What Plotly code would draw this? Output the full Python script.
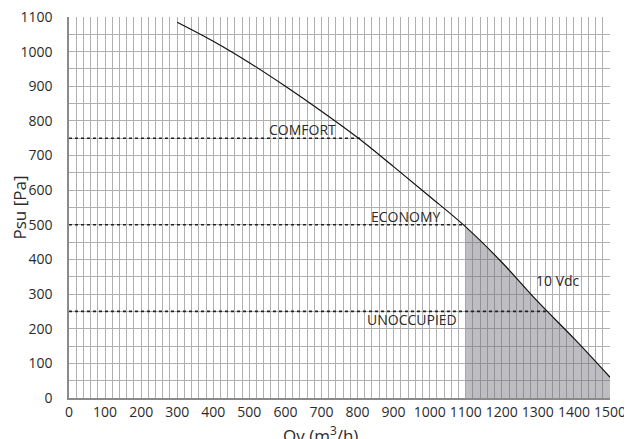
import plotly.graph_objects as go

# Data
curve_x = [300, 400, 500, 600, 700, 800, 900, 1000, 1100, 1200, 1300, 1400, 1500]
curve_y = [1085, 1030, 968, 900, 828, 752, 668, 582, 494, 392, 278, 172, 60]

shade_x = [1100, 1200, 1300, 1400, 1500]
shade_y = [494, 392, 278, 172, 60]

level_names = ["COMFORT", "ECONOMY", "UNOCCUPIED"]
level_values = [750, 500, 250]
level_ends = [812, 1100, 1325]

label_x = [746, 1038, 1080]
label_y = [776, 525, 226]

curve_label = "10 Vdc"
curve_label_pos = (1357, 340)

x_ticks = list(range(0, 1501, 100))
y_ticks = list(range(0, 1101, 100))

x_title = "Qv (m<sup>3</sup>/h)"
y_title = "Psu [Pa]"

FONT = "Open Sans, Noto Sans, sans-serif"
TXT = "#2b2b2b"

fig = go.Figure()

fig.add_trace(go.Scatter(
    x=shade_x, y=shade_y, mode="lines", fill="tozeroy",
    fillcolor="rgba(110,110,120,0.45)", line=dict(width=0),
    hoverinfo="skip", showlegend=False))

for v, e in zip(level_values, level_ends):
    fig.add_trace(go.Scatter(
        x=[0, e], y=[v, v], mode="lines",
        line=dict(color="#222222", width=1.6, dash="dot"),
        showlegend=False, hoverinfo="skip"))

fig.add_trace(go.Scatter(
    x=curve_x, y=curve_y, mode="lines", line=dict(color="#111111", width=1.2, shape="spline"),
    showlegend=False))

for name, lx, ly in zip(level_names, label_x, label_y):
    fig.add_annotation(x=lx, y=ly, text=name, showarrow=False, xanchor="right",
                       yanchor="middle", font=dict(family=FONT, size=14, color=TXT))

fig.add_annotation(x=curve_label_pos[0], y=curve_label_pos[1], text=curve_label,
                   showarrow=False, xanchor="center", yanchor="middle",
                   font=dict(family=FONT, size=14, color=TXT))

# x-axis title (sits slightly left of centre in the reference)
fig.add_annotation(x=696, xref="x", y=-0.095, yref="paper", text=x_title,
                   showarrow=False, xanchor="center", yanchor="middle",
                   font=dict(family=FONT, size=17, color=TXT))

grid_col = "#b0b0b0"
fig.update_layout(
    width=624, height=431,
    margin=dict(l=61, r=22, t=9, b=41),
    paper_bgcolor="white", plot_bgcolor="white",
    font=dict(family=FONT, size=13, color=TXT),
    xaxis=dict(range=[0, 1500], tickvals=x_ticks, ticks="", showgrid=True,
               gridcolor=grid_col, gridwidth=1, automargin=False,
               minor=dict(dtick=20, showgrid=True, gridcolor=grid_col, gridwidth=1),
               showline=True, linecolor="#8a8a8a", linewidth=1.5, mirror=False,
               zeroline=False, tickfont=dict(size=14), ticklabelstandoff=0,
               ticklabeloverflow="allow"),
    yaxis=dict(range=[0, 1100], tickvals=y_ticks, ticks="", showgrid=True,
               gridcolor=grid_col, gridwidth=1, automargin=False,
               minor=dict(dtick=50, showgrid=True, gridcolor=grid_col, gridwidth=1),
               showline=True, linecolor="#8a8a8a", linewidth=1.5,
               zeroline=False, tickfont=dict(size=14), ticklabelstandoff=12,
               ticklabeloverflow="allow",
               title=dict(text=y_title, font=dict(size=17), standoff=4)),
)

fig.write_html("out.html")
